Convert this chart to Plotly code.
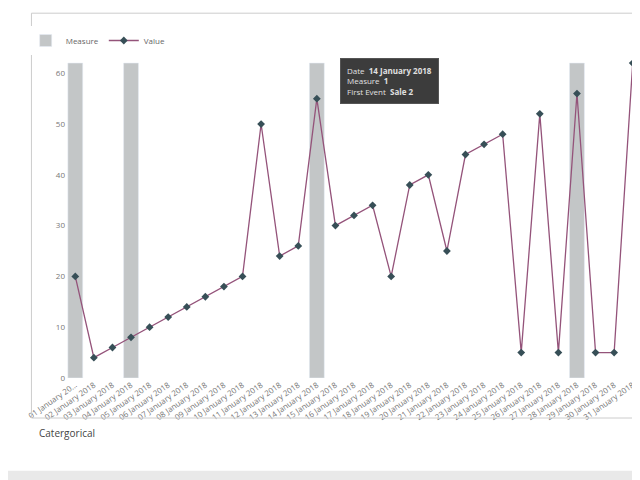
import plotly.graph_objects as go

dates = [f"{d:02d} January 2018" for d in range(1, 32)]
values = [20, 4, 6, 8, 10, 12, 14, 16, 18, 20, 50, 24, 26, 55, 30, 32, 34, 20,
          38, 40, 25, 44, 46, 48, 5, 52, 5, 56, 5, 5, 62]
measure = [1 if d in (1, 4, 14, 28) else None for d in range(1, 32)]
tick_labels = ["01 January 20..."] + dates[1:]

fig = go.Figure()
fig.add_trace(go.Bar(x=dates, y=measure, name="Measure", marker_color="#c3c6c7",
                     width=0.8, yaxis="y"))
fig.add_trace(go.Scatter(x=dates, y=values, name="Value", mode="lines+markers", yaxis="y2",
                         line=dict(color="#94537a", width=1.3),
                         marker=dict(symbol="diamond", size=6, color="#374f57")))

fig.add_annotation(x=0.475, y=1.0, xref="paper", yref="paper", xanchor="left", yanchor="top",
                   text="Date  <b>14 January 2018</b><br>Measure  <b>1</b><br>First Event  <b>Sale 2</b>",
                   align="left", showarrow=False, bgcolor="#3c3c3c", bordercolor="#555",
                   font=dict(color="#e0e0e0", size=8), borderpad=6)
fig.add_annotation(x=-0.05, y=-0.2, xref="paper", yref="paper", xanchor="left",
                   text="Catergorical", showarrow=False, font=dict(size=10, color="#444"))

fig.update_layout(
    width=640, height=480, margin=dict(l=58, r=6, t=50, b=110),
    paper_bgcolor="white", plot_bgcolor="white",
    font=dict(family="Open Sans", color="#666", size=8),
    showlegend=True, legend=dict(orientation="h", x=-0.07, y=1.1, xanchor="left",
                                 font=dict(size=8, color="#666"), itemwidth=30),
    bargap=0.2,
    xaxis=dict(type="category", tickangle=-35, tickvals=dates, ticktext=tick_labels,
               range=[-0.5, 30.5], showgrid=False, showline=False, automargin=False,
               tickfont=dict(size=8, color="#777")),
    yaxis2=dict(range=[0, 63], tickvals=[0, 10, 20, 30, 40, 50, 60], showgrid=False,
                zeroline=False, automargin=False, overlaying="y", side="left",
                tickfont=dict(size=8, color="#777")),
    yaxis=dict(range=[0, 63 / 62], visible=False),
)
fig.add_shape(type="rect", xref="paper", yref="paper", x0=-0.06, x1=1.0, y0=-0.125, y1=1.14,
              line=dict(color="#ccc", width=1))
fig.add_shape(type="rect", xref="paper", yref="paper", x0=-0.2, x1=1.2, y0=-0.29, y1=-0.36,
              fillcolor="#e9e9e9", line=dict(width=0), layer="below")
fig.write_html("out.html")
